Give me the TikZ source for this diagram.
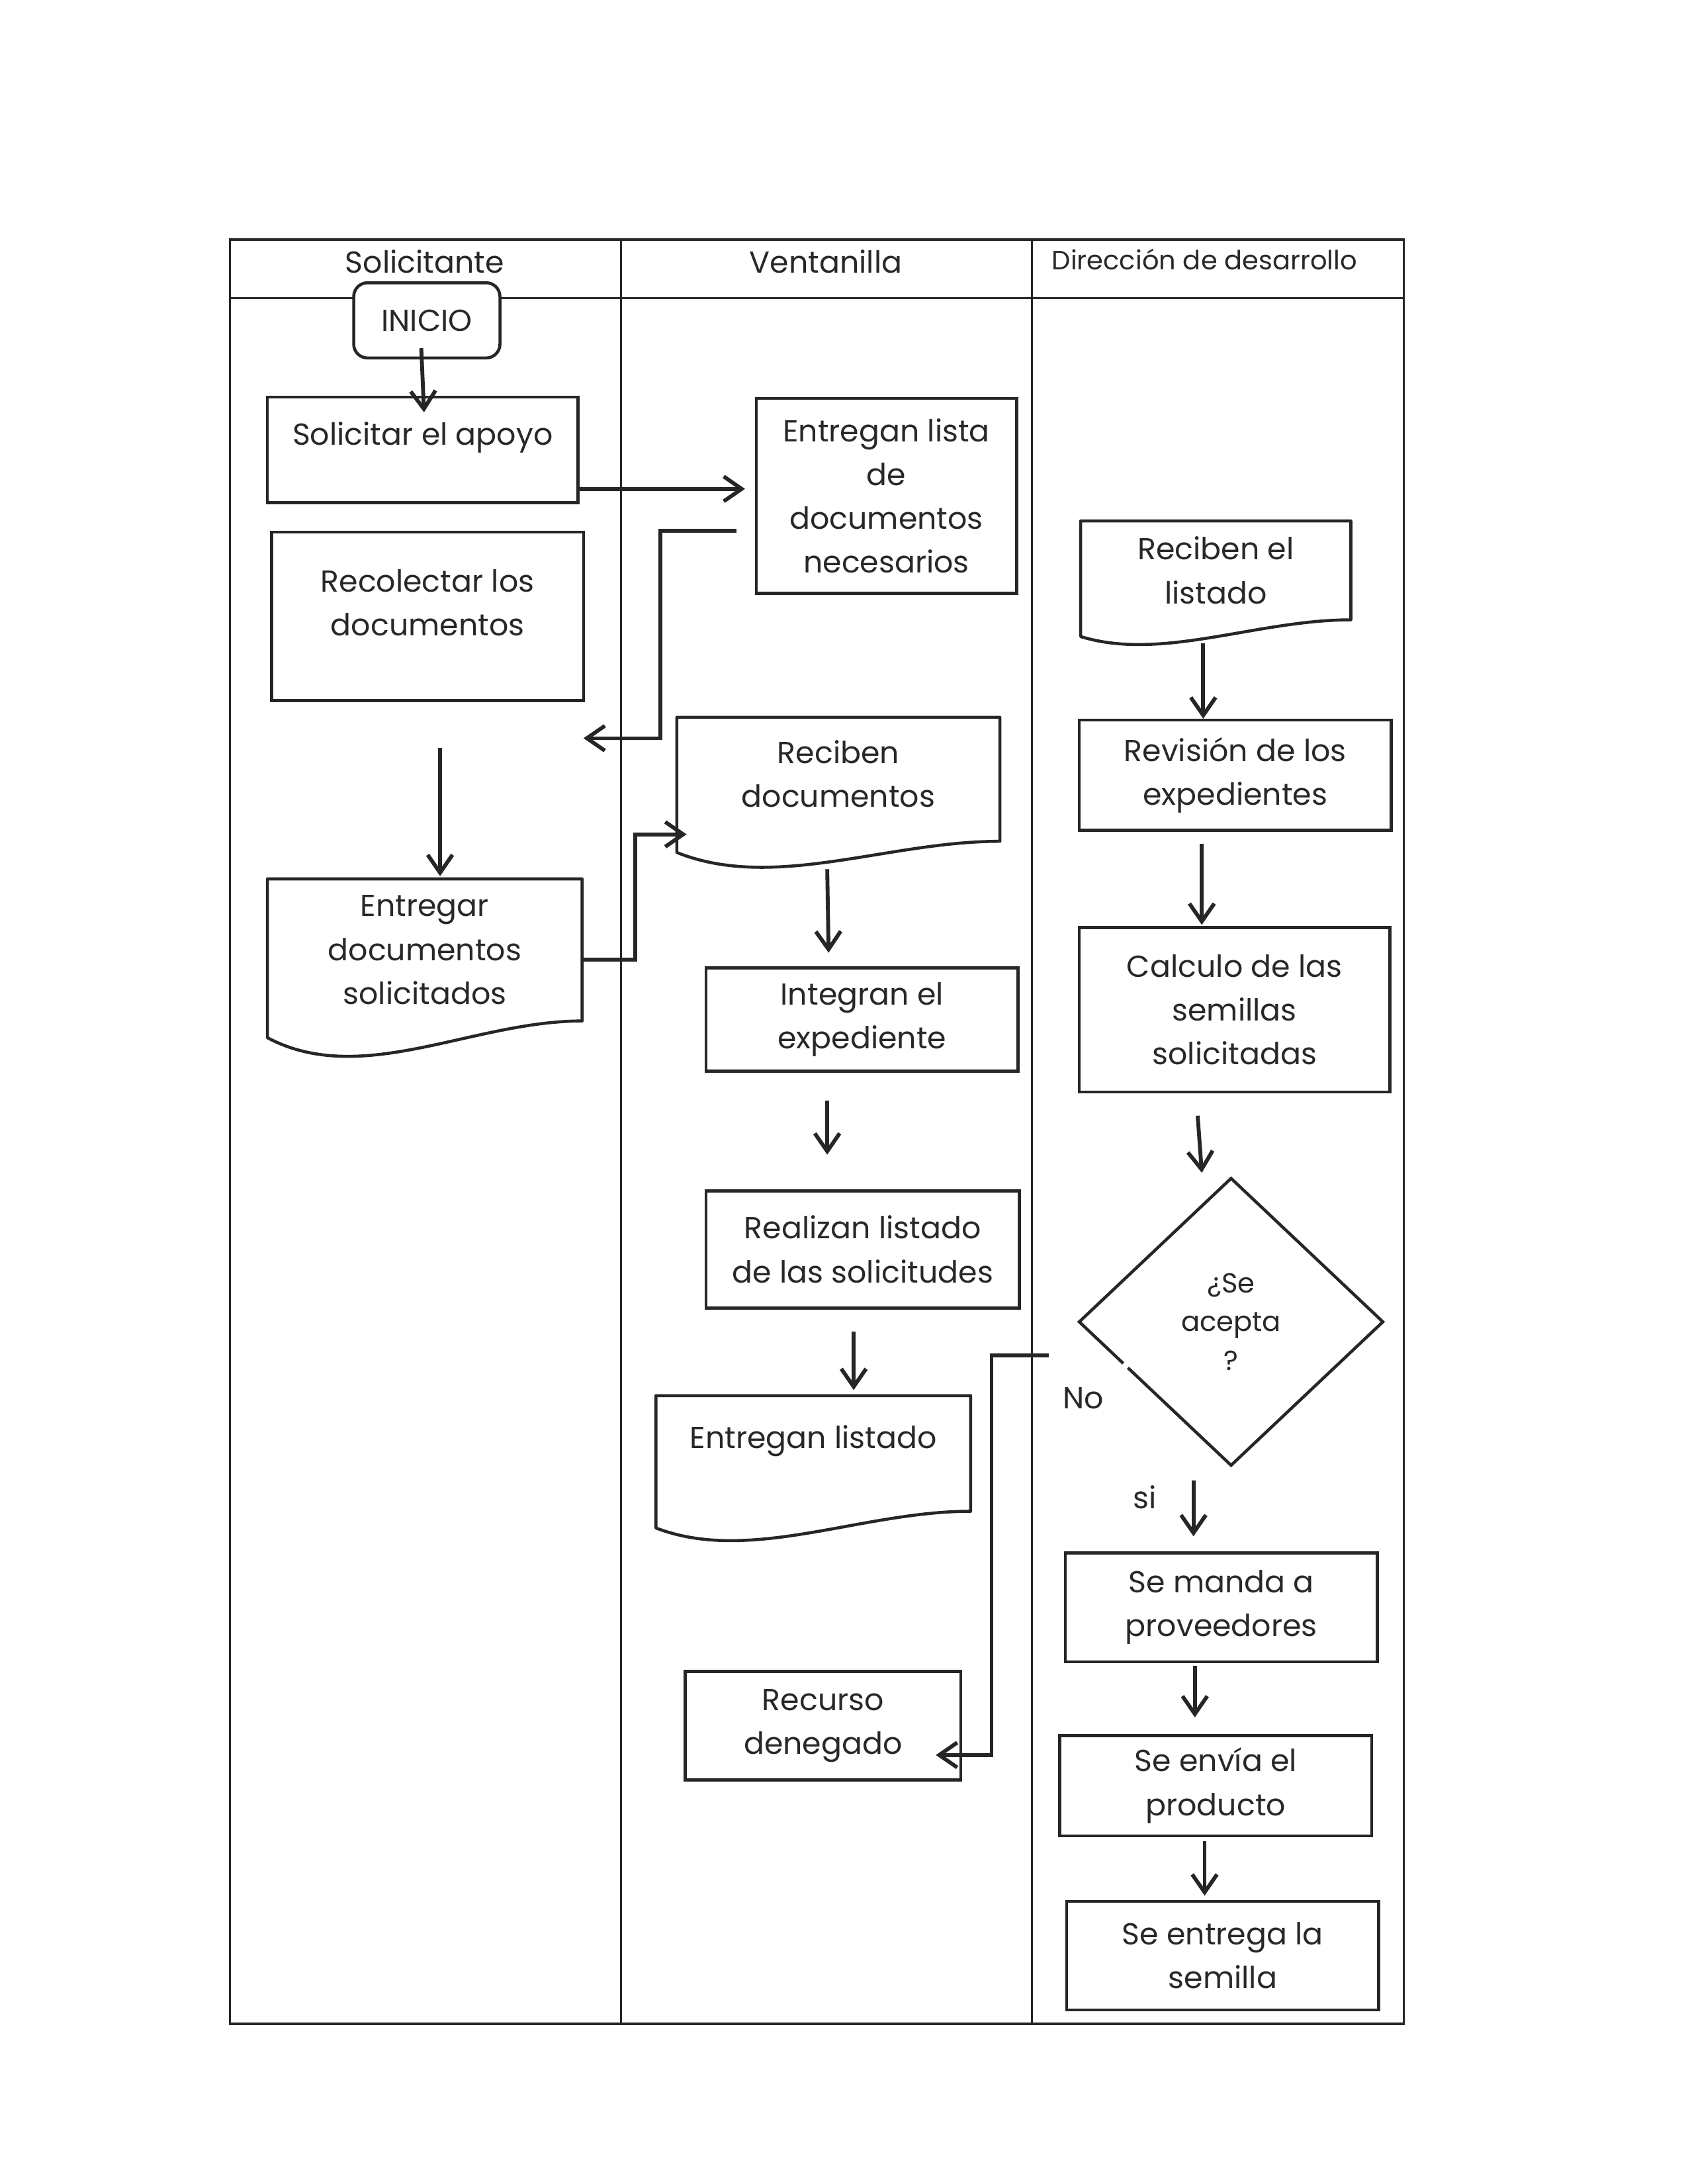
\documentclass[tikz,border=0pt]{standalone}
\usepackage{fontspec}
\setmainfont{Poppins}
\usetikzlibrary{shapes.geometric,arrows.meta,calc}
\definecolor{ink}{RGB}{38,38,38}
\definecolor{txt}{RGB}{40,40,40}
\def\U{0.505pt}
\newcommand\bx[7][]{\node[box,#1,minimum width={(#4-#2)*\U},minimum height={(#5-#3)*\U}] (#6) at ({(#2+#4)/2},{(#3+#5)/2}) {#7};}
\newcommand\dc[7][]{\node[docn,#1,minimum width={(#4-#2)*\U},minimum height={(#5-#3)*\U}] (#6) at ({(#2+#4)/2},{(#3+#5)/2}) {#7};}
\newcommand\docpath[3]{\draw[shp] (#1.north west) -- (#1.north east) -- (#1.south east) .. controls ($(#1.south east)!0.35!(#1.south west)$) and ($(#1.south east)!0.7!(#1.south west)+(0,#3)$) .. ($(#1.south west)+(0,#2)$) -- cycle;}
\begin{document}
\begin{tikzpicture}[x=0.505pt,y=-0.505pt,
  font=\fontsize{11}{15.9}\selectfont,
  box/.style={draw=ink,fill=white,line width=1.1pt,align=center,inner sep=0pt,outer sep=0pt,text=txt},
  docn/.style={draw=none,align=center,inner sep=0pt,outer sep=0pt,text=txt},
  shp/.style={draw=ink,line width=1.1pt,line join=round},
  arr/.style={draw=ink,line width=1.4pt,-{Straight Barb[length=6.5pt,width=9pt,line width=1.4pt]}},
  frm/.style={draw=ink,line width=0.8pt},
  lbl/.style={text=txt,inner sep=0pt}]
\useasboundingbox (0,0) rectangle (1212,1568);
\fill[white] (0,0) rectangle (1212,1568);
% frame
\draw[frm] (165,172) rectangle (1008,1453);
\draw[frm] (165,214) -- (1008,214);
\draw[frm] (446,172) -- (446,1453);
\draw[frm] (741,172) -- (741,1453);
\node[lbl] (hsol) at (305,188) {Solicitante};
\node[lbl] (hven) at (593,188) {Ventanilla};
\node[lbl,anchor=west,font=\fontsize{9.6}{12}\selectfont] (hdir) at (755,186) {Dirección de desarrollo};
% nodes
\node[box,rounded corners=5pt,minimum width={105*\U},minimum height={54*\U}] (inicio) at (306.5,230) {INICIO};
\bx[text depth=12pt]{192}{285}{415}{361}{solicitar}{Solicitar el apoyo}
\bx{543}{286}{730}{426}{lista}{Entregan lista\\de\\documentos\\necesarios}
\bx[text depth=10pt]{195}{382}{419}{503}{recolectar}{Recolectar los\\documentos}
\bx{507}{695}{731}{769}{integran}{Integran el\\expediente}
\bx{507}{855}{732}{939}{realizan}{Realizan listado\\de las solicitudes}
\bx{492}{1200}{690}{1278}{recurso}{Recurso\\denegado}
\bx{775}{517}{999}{596}{revision}{Revisión de los\\expedientes}
\bx{775}{666}{998}{784}{calculo}{Calculo de las\\semillas\\solicitadas}
\bx{765}{1115}{989}{1193}{manda}{Se manda a\\proveedores}
\bx{761}{1246}{985}{1318}{envia}{Se envía el\\producto}
\bx{766}{1365}{990}{1443}{entrega}{Se entrega la\\semilla}
\dc[text depth=4pt]{486}{515}{718}{604}{recibendoc}{Reciben\\documentos}
\dc{192}{631}{418}{733}{entregar}{Entregar\\documentos\\solicitados}
\dc[text depth=12pt]{471}{1002}{697}{1085}{listado}{Entregan listado}
\dc{776}{374}{970}{445}{recibenlist}{Reciben el\\listado}
\docpath{recibendoc}{8}{36}
\docpath{entregar}{12}{48}
\docpath{listado}{12}{38}
\docpath{recibenlist}{12}{30}
\node[box,diamond,minimum width={218*\U},minimum height={206*\U},font=\fontsize{10}{14}\selectfont] (dec) at (884,949) {¿Se\\acepta\\?};
\draw[white,line width=2.5pt] ($(dec.west)!0.29!(dec.south)$) -- ($(dec.west)!0.32!(dec.south)$);
\node[lbl] (lno) at (778,1004) {No};
\node[lbl] (lsi) at (822,1075) {si};
% connectors
\draw[arr] ($(inicio.south)+(-4,-7)$) -- ($(solicitar.north)+(1,11)$);
\draw[arr] ($(solicitar.east)+(0,28)$) -- ($(lista.west)+(-8,-5)$);
\draw[arr] ($(lista.west)+(-14,25)$) -- ++(-55,0) |- ($(recolectar.south east)+(0,27)$);
\draw[arr] ($(recolectar.south)+(9,34)$) -- ($(entregar.north)+(11,-2)$);
\draw[arr] ($(entregar.east)+(0,7)$) -- ++(38,0) |- ($(recibendoc.west)+(7,39.5)$);
\draw[arr] ($(recibendoc.south)+(-8,20)$) -- ($(integran.north)+(-24,-11)$);
\draw[arr] ($(integran.south)+(-25,21)$) -- ($(realizan.north)+(-25.5,-26)$);
\draw[arr] ($(realizan.south)+(-6.5,17)$) -- ($(listado.north)+(29,-4)$);
\draw[arr] ($(recibenlist.south)+(-9,17)$) -- ($(revision.north)+(-23,-1)$);
\draw[arr] ($(revision.south)+(-24,10)$) -- ($(calculo.north)+(-23.5,-2)$);
\draw[arr] ($(calculo.south)+(-26.5,17)$) -- ($(dec.north)+(-21,-4)$);
\draw[arr] ($(dec.south)+(-27,11)$) -- ($(manda.north)+(-20,-12)$);
\draw[arr] ($(manda.south)+(-19,3)$) -- ($(envia.north)+(-15,-13)$);
\draw[arr] ($(envia.south)+(-8,4)$) -- ($(entrega.north)+(-13,-4)$);
\coordinate (nostart) at ($(dec.west)+(-22,24)$);
\draw[arr] (nostart) -- ++(-41,0) |- ($(recurso.east)+(-18,21)$);
\end{tikzpicture}
\end{document}
